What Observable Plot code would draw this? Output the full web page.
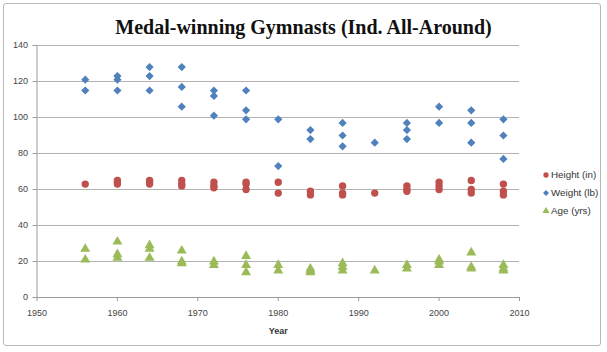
<!DOCTYPE html>
<html>
<head>
<meta charset="utf-8">
<script src="https://cdn.jsdelivr.net/npm/d3@7"></script>
<script src="https://cdn.jsdelivr.net/npm/@observablehq/plot@0.6"></script>
<style>
  body { margin: 0; background: #fff; }
  #wrap { position: relative; width: 607px; height: 352px; overflow: hidden; background: #fff; }
  #frame { position: absolute; left: 3px; top: 3px; width: 598px; height: 343px; border: 1px solid #b8b8b8; border-radius: 3px; box-sizing: border-box; pointer-events: none; }
  #title { position: absolute; left: 0; top: 16px; width: 607px; height: 22px; line-height: 22px; text-align: center; font: bold 20px "Liberation Serif", serif; color: #111; }
  #chart { position: absolute; left: 0; top: 40px; }
  #legend { position: absolute; left: 542px; top: 168px; font: 9.8px "Liberation Sans", sans-serif; color: #333; }
  #legend div { height: 18px; line-height: 14px; white-space: nowrap; }
  #legend svg { vertical-align: middle; margin-right: 1px; }
</style>
</head>
<body>
<div id="wrap">
  <div id="title">Medal-winning Gymnasts (Ind. All-Around)</div>
  <div id="chart"></div>
  <div id="legend"></div>
  <div id="frame"></div>
</div>
<script>
const years = [1956, 1960, 1964, 1968, 1972, 1976, 1980, 1984, 1988, 1992, 1996, 2000, 2004, 2008];
const heightIn = [[63],[65,64,63],[65,64,63],[65,63,62],[64,62,61],[64,63,60],[64,58],[59,57],[62,58,57],[58],[62,60,59],[64,62,60],[65,60,58],[63,59,57]];
const weightLb = [[121,115],[123,121,115],[128,123,115],[128,117,106],[115,112,101],[115,104,99],[99,73],[93,88],[97,90,84],[86],[97,93,88],[106,97],[104,97,86],[99,90,77]];
const ageYrs = [[27,21],[31,24,22],[29,27,22],[26,20,19],[20,18],[23,18,14],[18,15],[16,15,14],[19,17,15],[15],[18,16],[21,20,18],[25,17,16],[18,16,15]];
const seriesNames = ["Height (in)", "Weight (lb)", "Age (yrs)"];
const seriesColors = ["#c0504d", "#4f81bd", "#9bbb59"];
const seriesSymbols = ["circle", "diamond2", "triangle"];
const xTicks = [1950, 1960, 1970, 1980, 1990, 2000, 2010];
const yTicks = [0, 20, 40, 60, 80, 100, 120, 140];

const flat = (arr, name) => years.flatMap((yr, i) => arr[i].map(v => ({year: yr, value: v, series: name})));
const data = [
  ...flat(heightIn, seriesNames[0]),
  ...flat(weightLb, seriesNames[1]),
  ...flat(ageYrs, seriesNames[2])
];

const chart = Plot.plot({
  width: 607,
  height: 312,
  marginTop: 5,
  marginBottom: 55,
  marginLeft: 36.5,
  marginRight: 88,
  style: {fontFamily: "Liberation Sans, sans-serif", fontSize: "9px", color: "#444", background: "transparent"},
  x: {domain: [1950, 2010], ticks: xTicks, tickFormat: d => String(d), label: null},
  y: {domain: [0, 140], ticks: yTicks, label: null},
  color: {domain: seriesNames, range: seriesColors},
  symbol: {domain: seriesNames, range: seriesSymbols},
  marks: [
    Plot.gridY(yTicks.filter(d => d > 0), {stroke: "#b3b3b3", strokeOpacity: 1, strokeWidth: 1}),
    Plot.ruleY([0], {stroke: "#9a9a9a"}),
    Plot.ruleX([1950], {stroke: "#9a9a9a"}),
    Plot.axisX({ticks: xTicks, tickSize: 4, tickPadding: 8, stroke: "#9a9a9a", fill: "#444", tickFormat: d => String(d), label: null}),
    Plot.axisY({ticks: yTicks, tickSize: 4, tickPadding: 5, stroke: "#9a9a9a", fill: "#444", label: null}),
    Plot.text(["Year"], {frameAnchor: "bottom", dy: 36, fontWeight: "bold", fill: "#333", fontSize: 9}),
    Plot.dot(data, {x: "year", y: "value", fill: "series", symbol: "series", r: 3.7, stroke: "none"})
  ]
});
document.getElementById("chart").appendChild(chart);

const legend = document.getElementById("legend");
seriesNames.forEach((name, i) => {
  const row = document.createElement("div");
  const sym = {circle: d3.symbolCircle, diamond2: d3.symbolDiamond2, triangle: d3.symbolTriangle}[seriesSymbols[i]];
  const path = d3.symbol(sym, 22)();
  row.innerHTML = `<svg width="8" height="8" viewBox="-4 -4 8 8"><path d="${path}" fill="${seriesColors[i]}"></path></svg>`;
  row.appendChild(document.createTextNode(name));
  legend.appendChild(row);
});
</script>
</body>
</html>
